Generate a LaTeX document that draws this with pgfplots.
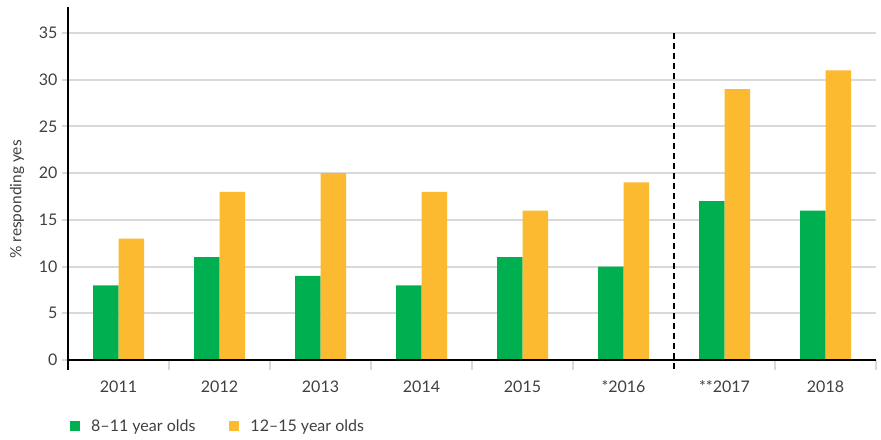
\documentclass[border=0pt]{standalone}
\usepackage{fontspec}
\setmainfont{Lato}
\usepackage{pgfplots}
\pgfplotsset{compat=1.18}
\definecolor{cgreen}{RGB}{0,176,80}
\definecolor{corange}{RGB}{251,186,48}
\definecolor{cgrid}{RGB}{217,217,217}
\definecolor{ctext}{RGB}{64,64,64}
\begin{document}
\begin{tikzpicture}
\begin{axis}[
  scale only axis, width=808pt, height=363pt,
  xmin=-0.5, xmax=7.5, ymin=-1.07, ymax=37.78,
  ybar=0pt, bar width=25.5pt,
  axis x line*=bottom, axis y line*=left,
  x axis line style={draw=none},
  y axis line style={black, line width=2pt, -},
  xtick={0,...,7},
  xticklabels={2011,2012,2013,2014,2015,*2016,**2017,2018},
  major x tick style={draw=none},
  minor xtick={0.5,1.5,2.5,3.5,4.5,6.5,7.5},
  minor x tick style={draw=cgrid, line width=2pt, yshift=10pt},
  minor tick length=10pt,
  ytick={0,5,...,35},
  ymajorgrids, grid style={cgrid, line width=2pt},
  major y tick style={cgrid, line width=2pt},
  tick align=outside, major tick length=6pt,
  /pgf/number format/assume math mode=true,
  ticklabel style={font=\fontsize{16}{16}\selectfont, text=ctext},
  yticklabel style={xshift=-1pt},
  xticklabel style={yshift=-1pt},
  ylabel={\% responding yes},
  y label style={at={([xshift=-51pt]axis description cs:0,0.47)}, anchor=center, font=\fontsize{15.5}{15.5}\selectfont, text=ctext},
  legend columns=2,
  legend style={draw=none, fill=none, at={([xshift=2pt,yshift=-56pt]axis description cs:0,0)}, anchor=west,
    font=\fontsize{16}{16}\selectfont, text=ctext, inner sep=0pt,
    /tikz/every odd column/.append style={column sep=9pt},
    /tikz/every even column/.append style={column sep=32pt}},
  legend image code/.code={\fill[#1] (0pt,-5pt) rectangle (10pt,5pt);},
]
\addplot[fill=cgreen, draw=none] coordinates {(0,8) (1,11) (2,9) (3,8) (4,11) (5,10) (6,17) (7,16)};
\addlegendentry{8–11 year olds}
\addplot[fill=corange, draw=none] coordinates {(0,13) (1,18) (2,20) (3,18) (4,16) (5,19) (6,29) (7,31)};
\addlegendentry{12–15 year olds}
\draw[black, line width=2pt] ([xshift=-6pt]axis cs:-0.5,0) -- (axis cs:7.5,0);
\draw[black, line width=2pt, dash pattern=on 6pt off 4pt] (axis cs:5.5,35) -- (axis cs:5.5,-1.07);
\end{axis}
\pgfresetboundingbox
\path ([xshift=-68pt,yshift=-69pt]current axis.south west) rectangle ([xshift=5pt,yshift=7pt]current axis.north east);
\end{tikzpicture}
\end{document}
